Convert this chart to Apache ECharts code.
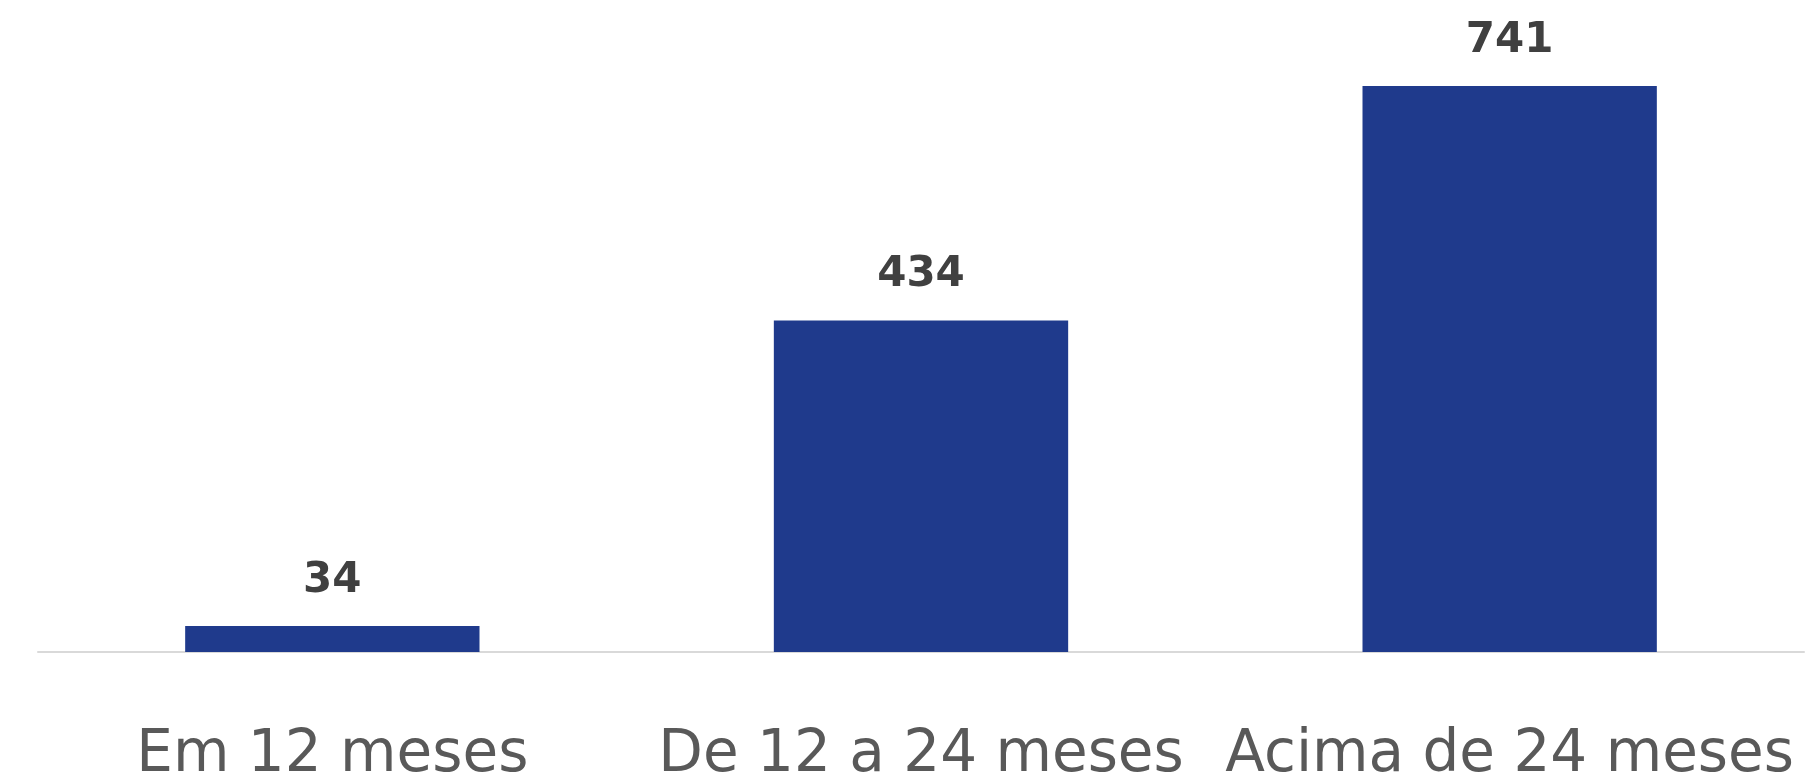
<!DOCTYPE html>
<html>
<head>
<meta charset="utf-8">
<script src="https://cdn.jsdelivr.net/npm/echarts@6/dist/echarts.min.js"></script>
<style>
  html, body { margin: 0; padding: 0; background: #fff; }
  #chart { width: 1819px; height: 778px; }
</style>
</head>
<body>
<div id="chart"></div>
<script>
// categorias e valores
const categories = ["Em 12 meses", "De 12 a 24 meses", "Acima de 24 meses"];
const values = [34, 434, 741];

const chart = echarts.init(document.getElementById("chart"));

const option = {
  animation: false,
  grid: {
    left: 38,
    right: 15,
    top: 86,
    bottom: 126,
    containLabel: false,
    outerBoundsMode: "none",
  },
  xAxis: {
    type: "category",
    data: categories,
    axisLine: { show: true, lineStyle: { color: "#d9d9d9", width: 2 } },
    axisTick: { show: false },
    axisLabel: {
      interval: 0,
      hideOverlap: false,
      color: "#595959",
      fontFamily: "DejaVu Sans",
      fontSize: 58,
      margin: 104,
      verticalAlign: "middle",
    },
  },
  yAxis: {
    type: "value",
    min: 0,
    max: 741,
    show: false,
    splitLine: { show: false },
  },
  series: [
    {
      type: "bar",
      data: values,
      barWidth: "50%",
      itemStyle: { color: "#1f3a8c" },
      label: {
        show: true,
        position: "top",
        distance: 24,
        color: "#404040",
        fontFamily: "DejaVu Sans",
        fontWeight: "bold",
        fontSize: 42,
      },
    },
  ],
};

chart.setOption(option);
</script>
</body>
</html>
